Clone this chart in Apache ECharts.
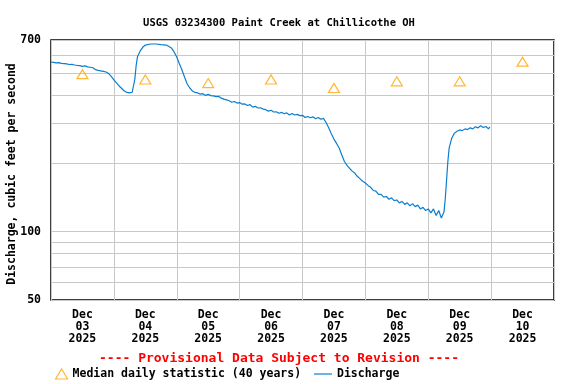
<!DOCTYPE html>
<html>
<head>
<meta charset="utf-8">
<script src="https://cdn.jsdelivr.net/npm/echarts@6/dist/echarts.min.js"></script>
<style>
html,body{margin:0;padding:0;background:#fff;}
#chart{width:576px;height:384px;}
</style>
</head>
<body>
<div id="chart"></div>
<script>
// ---- Data ----
const titleText = 'USGS 03234300 Paint Creek at Chillicothe OH';
const dayLabels = ['Dec\n03\n2025','Dec\n04\n2025','Dec\n05\n2025','Dec\n06\n2025','Dec\n07\n2025','Dec\n08\n2025','Dec\n09\n2025','Dec\n10\n2025'];
const medianValues = [495, 469, 452, 469, 430, 460, 460, 562];
const yTickLabels = [50, 100, 700];
const yGridValues = [50, 60, 70, 80, 90, 100, 200, 300, 400, 500, 600, 700];
// hours after Dec 03 2025 00:00
const dischargeHours = [
  0, 1, 2, 3, 4, 5, 6, 7, 8, 9, 10, 11, 12, 13, 14, 15, 16, 17, 18, 19, 20, 21, 22, 23, 24,
  26, 28, 29, 30, 31, 32, 32.5, 33, 34, 35, 36, 38, 40, 42, 44, 46, 47, 48, 49, 50, 51, 52, 53,
  54, 55, 56, 57, 58, 59, 60, 61, 62, 63, 64, 65, 66, 67, 68, 69, 70, 71, 72, 73, 74, 75, 76, 77, 78, 79,
  80, 81, 82, 83, 84, 85, 86, 87, 88, 89, 90, 91, 92, 93, 94, 95, 96, 97, 98, 99, 100, 101, 102, 103, 104,
  105, 106, 107, 108, 109, 110, 111, 112, 113, 114, 115, 116, 117, 118, 119,
  120, 121, 122, 123, 124, 125, 126, 127, 128, 129, 130, 131, 132, 133, 134, 135, 136, 137, 138, 139,
  140, 141, 142, 143, 144, 145, 146, 147, 148, 149, 150,
  150.5, 151, 151.5, 152, 153, 154, 155, 156, 157, 158, 159, 160, 161, 162, 163, 164, 165, 166, 167, 167.5
];
const dischargeValues = [
  560, 558, 555, 556, 552, 551, 549, 546, 547, 543, 541, 540, 536, 538, 533, 531, 528, 518, 514, 512, 509, 506, 498, 484, 467,
  439, 417, 411, 409, 412, 470, 540, 590, 625, 650, 665, 672, 672, 668, 665, 645, 620, 589, 550, 516, 480, 448, 430,
  417, 411, 409, 404, 406, 399, 403, 398, 397, 394, 395, 388, 384, 381, 378, 372, 375, 369, 371, 365, 366, 360, 363, 354, 357, 351,
  352, 347, 345, 340, 343, 337, 338, 333, 336, 331, 334, 327, 332, 327, 329, 325, 326, 319, 322, 318, 321, 315, 319, 313, 316,
  303, 287, 270, 256, 245, 234, 218, 204, 196, 190, 185, 181, 175, 171, 167,
  164, 160, 157, 152, 151, 146, 146, 142, 143, 139, 141, 137, 138, 134, 136, 132, 134, 130, 133, 129,
  131, 126, 128, 124, 126, 121, 126, 118, 124, 115, 122,
  140, 169, 205, 235, 259, 272, 277, 281, 279, 284, 282, 287, 284, 290, 287, 293, 288, 291, 284, 290
];

// ---- Build ----
const noonTicks = dayLabels.map((_, i) => i * 24 + 12);
const midnightTicks = [];
for (let i = 0; i <= 8; i++) midnightTicks.push(i * 24);
const labelMap = {};
noonTicks.forEach((t, i) => { labelMap[t] = dayLabels[i]; });

const dischargeData = dischargeHours.map((h, i) => [h, dischargeValues[i]]);
const medianData = medianValues.map((v, i) => [noonTicks[i], v]);

const FONT = 'DejaVu Sans Mono';
const BLUE = '#0a7fd0';
const ORANGE = '#ffa500';
const chart = echarts.init(document.getElementById('chart'), null, {renderer: 'canvas'});
chart.setOption({
  animation: false,
  backgroundColor: '#ffffff',
  title: {
    text: titleText,
    left: 274, top: 13, textAlign: 'center',
    textStyle: {fontFamily: FONT, fontSize: 10.5, fontWeight: 'bold', color: '#000'}
  },
  grid: {left: 51, right: 22, top: 40, bottom: 84, outerBoundsMode: 'none', containLabel: false,
         show: true, borderColor: '#000', borderWidth: 1.5, backgroundColor: 'transparent'},
  xAxis: {
    type: 'value', min: 0, max: 192,
    axisLine: {show: false},
    axisTick: {show: false, customValues: midnightTicks},
    splitLine: {show: true, lineStyle: {color: '#c8c8c8', width: 1}},
    axisLabel: {
      customValues: noonTicks,
      formatter: (v) => labelMap[v] || '',
      fontFamily: FONT, fontSize: 11.5, fontWeight: 'bold', color: '#000',
      lineHeight: 12, margin: 9
    }
  },
  yAxis: {
    type: 'log', logBase: 10, min: 50, max: 700,
    name: 'Discharge, cubic feet per second',
    nameLocation: 'middle', nameRotate: 90, nameGap: 33, nameMoveOverlap: false,
    nameTextStyle: {fontFamily: FONT, fontSize: 11.5, fontWeight: 'bold', color: '#000', padding: [0, 8, 0, 0]},
    axisLine: {show: false},
    axisTick: {show: false, customValues: yGridValues},
    splitLine: {show: true, lineStyle: {color: '#c8c8c8', width: 1}},
    axisLabel: {
      customValues: yTickLabels,
      fontFamily: FONT, fontSize: 11.5, fontWeight: 'bold', color: '#000', margin: 10
    }
  },
  legend: [
    {
      left: 50, top: 363, itemWidth: 12, itemHeight: 10, itemGap: 5,
      textStyle: {fontFamily: FONT, fontSize: 11.5, fontWeight: 'bold', color: '#000'},
      selectedMode: false,
      data: [{name: 'Median daily statistic (40 years)', icon: 'triangle',
              itemStyle: {color: 'rgba(0,0,0,0)', borderColor: ORANGE, borderWidth: 1.2}}]
    },
    {
      left: 309, top: 363, itemWidth: 18, itemHeight: 10,
      textStyle: {fontFamily: FONT, fontSize: 11.5, fontWeight: 'bold', color: '#000'},
      selectedMode: false,
      data: [{name: 'Discharge', icon: 'path://M0,0H18V1.2H0Z', itemStyle: {color: BLUE}}]
    }
  ],
  graphic: [{
    type: 'text', left: 99, top: 352,
    style: {text: '---- Provisional Data Subject to Revision ----', font: 'bold 13px "DejaVu Sans Mono"', fill: '#ff0000'}
  }],
  series: [
    {
      name: 'Discharge', type: 'line', data: dischargeData, showSymbol: false, symbol: 'none',
      lineStyle: {color: BLUE, width: 1.2}, itemStyle: {color: BLUE}, z: 2
    },
    {
      name: 'Median daily statistic (40 years)', type: 'scatter', data: medianData,
      symbol: 'triangle', symbolSize: [11, 9],
      itemStyle: {color: 'rgba(255,255,255,0)', borderColor: ORANGE, borderWidth: 1.2}, z: 3
    }
  ]
});
</script>
</body>
</html>
